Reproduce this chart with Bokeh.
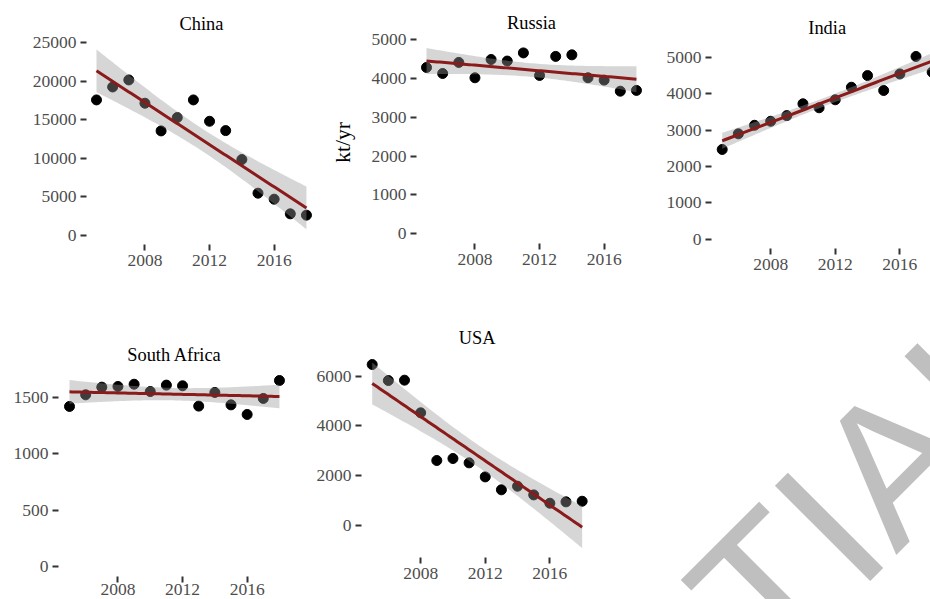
import numpy as np
from bokeh.plotting import figure
from bokeh.models import Range1d, FixedTicker, Label
from bokeh.layouts import row, column
from bokeh.embed import file_html
from bokeh.resources import INLINE

# ---------------- data ----------------
years = list(range(2005, 2019))
china = [17590, 19270, 20180, 17160, 13570, 15300, 17590, 14820, 13610, 9850, 5490, 4710, 2810, 2640]
russia = [4280, 4125, 4410, 4015, 4485, 4445, 4655, 4075, 4565, 4605, 4015, 3955, 3670, 3690]
india = [2465, 2895, 3130, 3240, 3395, 3720, 3610, 3830, 4175, 4495, 4085, 4540, 5020, 4590]
south_africa = [1418, 1521, 1589, 1595, 1615, 1550, 1607, 1601, 1421, 1542, 1432, 1347, 1489, 1648]
usa = [6470, 5825, 5840, 4525, 2605, 2685, 2510, 1945, 1425, 1570, 1220, 885, 940, 965]

x_ticks = [2008, 2012, 2016]
china_ticks = [0, 5000, 10000, 15000, 20000, 25000]
russia_ticks = [0, 1000, 2000, 3000, 4000, 5000]
india_ticks = [0, 1000, 2000, 3000, 4000, 5000]
sa_ticks = [0, 500, 1000, 1500]
usa_ticks = [0, 2000, 4000, 6000]

y_label = "kt/yr"
watermark = "TIAL"

T975_DF12 = 2.178813  # t quantile of the 95% band, n = 14 points


def lm_band(x, y):
    x = np.asarray(x, float)
    y = np.asarray(y, float)
    n = len(x)
    xm = x.mean()
    sxx = np.sum((x - xm) ** 2)
    b = np.sum((x - xm) * (y - y.mean())) / sxx
    a = y.mean() - b * xm
    resid = y - (a + b * x)
    sigma = np.sqrt(np.sum(resid ** 2) / (n - 2))
    xs = np.linspace(x.min(), x.max(), 80)
    fit = a + b * xs
    se = sigma * np.sqrt(1.0 / n + (xs - xm) ** 2 / sxx)
    return xs, fit, fit - T975_DF12 * se, fit + T975_DF12 * se


SERIF = "Liberation Serif"
PPY = 16.15          # pixels per year
TICK = 6


def make_panel(title, vals, yticks, fig_x0, fig_x1, frame_left, row_top, row_h,
               top_b, p2005, ycal, axis_y, title_mid, label_drop=21, extra_label=None):
    frame_top = row_top + top_b
    frame_bottom = row_top + row_h

    def xd(px):
        return 2005 + (px - p2005) / PPY

    v0, p0, v1, p1 = ycal
    s = (v1 - v0) / (p0 - p1)

    def yd(py):
        return v0 + (p0 - py) * s

    fw = fig_x1 - frame_left
    fh = frame_bottom - frame_top
    p = figure(width=fig_x1 - fig_x0, height=row_h, frame_width=fw, frame_height=fh,
               min_border_left=frame_left - fig_x0, min_border_right=0,
               min_border_top=top_b, min_border_bottom=0,
               x_range=Range1d(xd(frame_left), xd(fig_x1)),
               y_range=Range1d(yd(frame_bottom), yd(frame_top)),
               x_axis_location="above", title=None,
               output_backend="svg", toolbar_location=None)
    p.xgrid.visible = False
    p.ygrid.visible = False
    p.outline_line_color = None
    p.background_fill_color = "white"
    p.border_fill_color = "white"

    xs, fit, lo, hi = lm_band(years, vals)
    p.scatter(years, vals, size=10, color="black")
    p.varea(x=xs, y1=lo, y2=hi, fill_color="#999999", fill_alpha=0.4)
    p.line(xs, fit, line_color="#8B1A1A", line_width=3)

    for ax in (p.xaxis[0], p.yaxis[0]):
        ax.axis_line_color = None
        ax.major_tick_line_color = "#333333"
        ax.major_tick_line_width = 2
        ax.minor_tick_line_color = None
        ax.major_label_text_font = SERIF
        ax.major_label_text_font_size = "17.5px"
        ax.major_label_text_color = "#4D4D4D"
    yax = p.yaxis[0]
    yax.ticker = FixedTicker(ticks=yticks)
    yax.major_tick_out = TICK
    yax.major_tick_in = 0
    yax.major_label_standoff = 4

    # x axis drawn inside the frame at the bottom of the ggplot panel
    xax = p.xaxis[0]
    xax.ticker = FixedTicker(ticks=x_ticks)
    xax.fixed_location = yd(axis_y)
    xax.major_tick_out = 0
    xax.major_tick_in = TICK
    xax.major_label_standoff = -label_drop

    p.add_layout(Label(x=2011.5, y=yd(title_mid), text=title,
                       text_font=SERIF, text_font_size="18.4px", text_color="black",
                       text_align="center", text_baseline="middle"))
    if extra_label is not None:
        txt, px, py = extra_label
        p.add_layout(Label(x=xd(px), y=yd(py), text=txt, angle=np.pi / 2,
                           text_font=SERIF, text_font_size="21.5px", text_color="black",
                           text_align="center", text_baseline="middle"))
    return p


# top row: y 0..300, frames 10..300 ; bottom row: y 300..599, frames 326..599
p_china = make_panel("China", china, china_ticks, 0, 360, 86, 0, 300, 10, 96.0,
                     (0, 235.0, 25000, 42.3), 244, 23.5, extra_label=(y_label, 342, 142))
p_russia = make_panel("Russia", russia, russia_ticks, 360, 650, 416, 0, 300, 10, 426.0,
                      (0, 233.3, 5000, 39.0), 243, 22.5)
p_india = make_panel("India", india, india_ticks, 650, 930, 711, 0, 300, 10, 721.7,
                     (0, 238.7, 5000, 56.7), 248, 27.5)
p_sa = make_panel("South Africa", south_africa, sa_ticks, 0, 300, 58, 300, 299, 26, 69.0,
                  (0, 566.0, 1500, 396.7), 576, 354.2, label_drop=18)
p_usa = make_panel("USA", usa, usa_ticks, 300, 602, 361, 300, 299, 26, 371.7,
                   (0, 524.7, 6000, 375.7), 557, 337.0)

# watermark area, ranges in page pixels
p_wm = figure(width=328, height=299, frame_width=328, frame_height=273,
              x_range=Range1d(602, 930), y_range=Range1d(599, 326),
              min_border_left=0, min_border_right=0, min_border_top=26, min_border_bottom=0,
              x_axis_location=None, y_axis_location=None, title=None,
              output_backend="svg", toolbar_location=None)
p_wm.xgrid.visible = False
p_wm.ygrid.visible = False
p_wm.outline_line_color = None
p_wm.add_layout(Label(x=724.7, y=630.3, text=watermark, angle=np.pi / 4,
                      text_font="Liberation Sans", text_font_size="196px",
                      text_color="#BFBFBF", text_align="left", text_baseline="middle"))

layout = column(row(p_china, p_russia, p_india), row(p_sa, p_usa, p_wm))

open("out.html", "w").write(file_html(layout, INLINE))
